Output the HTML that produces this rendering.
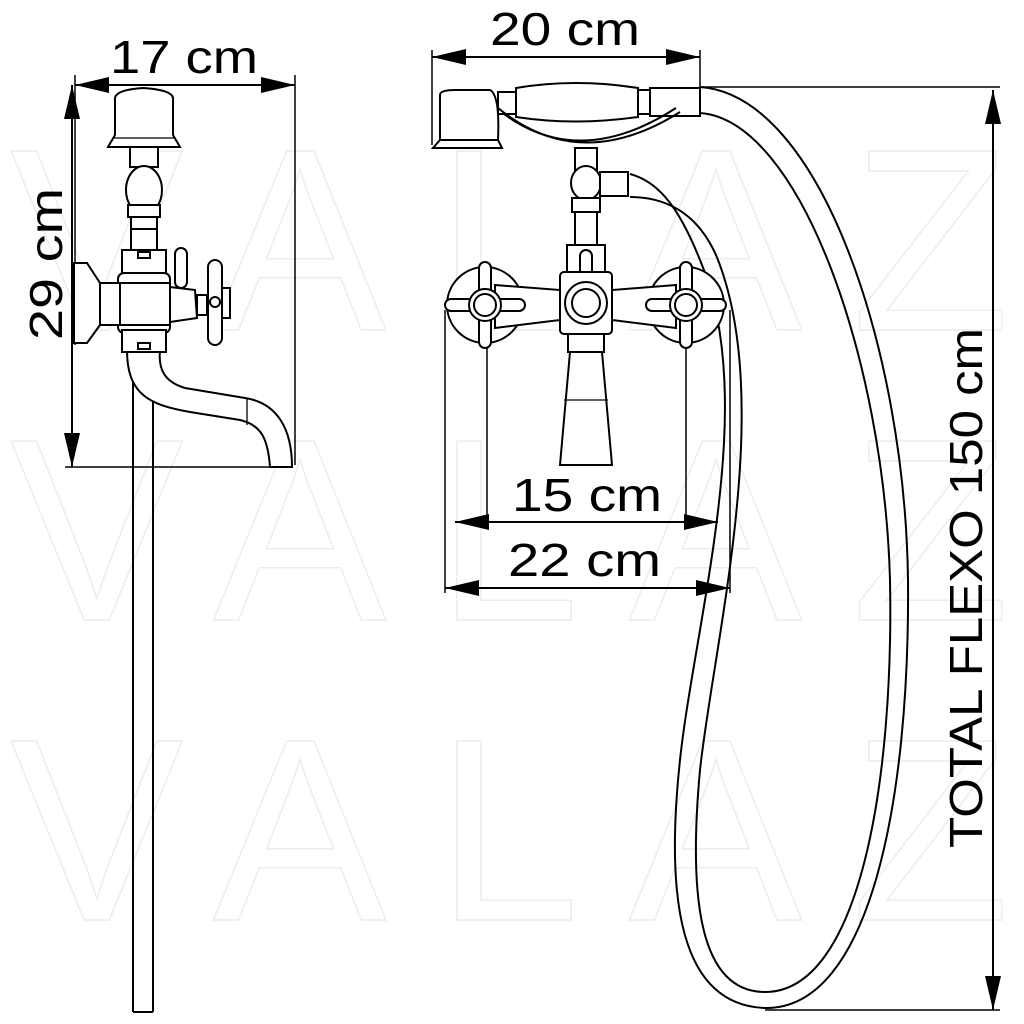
<!DOCTYPE html>
<html><head><meta charset="utf-8"><style>html,body{margin:0;padding:0;background:#fff}svg{display:block}</style></head>
<body>
<svg width="1024" height="1024" viewBox="0 0 1024 1024" xmlns="http://www.w3.org/2000/svg" font-family="Liberation Sans, sans-serif">
<defs>
<marker id="a" viewBox="0 0 10 10" refX="10" refY="5" markerWidth="34" markerHeight="16" markerUnits="userSpaceOnUse" orient="auto-start-reverse" preserveAspectRatio="none"><path d="M0,0 L10,5 L0,10 z" fill="#000"/></marker>
</defs>
<style>.l{fill:none;stroke:#000;stroke-width:2}.t{fill:none;stroke:#000;stroke-width:1.3}.w{fill:#fff;stroke:#000;stroke-width:2}.d{stroke:#000;stroke-width:1.5;fill:none}</style>
<!-- watermark -->
<g fill="none" stroke="#ececec" stroke-width="1.5" font-size="260" font-weight="300">
<text x="10" y="330" textLength="1000" lengthAdjust="spacing">VALAZ</text>
<text x="10" y="620" textLength="1000" lengthAdjust="spacing">VALAZ</text>
<text x="10" y="920" textLength="1000" lengthAdjust="spacing">VALAZ</text>
</g>
<g fill="#000" font-size="46">
<text x="110" y="73" textLength="148" lengthAdjust="spacingAndGlyphs">17 cm</text>
<text transform="translate(62,340) rotate(-90)" textLength="152" lengthAdjust="spacingAndGlyphs">29 cm</text>
<text x="490" y="45" textLength="150" lengthAdjust="spacingAndGlyphs">20 cm</text>
<text x="512" y="511" textLength="150" lengthAdjust="spacingAndGlyphs">15 cm</text>
<text x="508" y="576" textLength="153" lengthAdjust="spacingAndGlyphs">22 cm</text>
<text transform="translate(982,848) rotate(-90)" textLength="520" lengthAdjust="spacingAndGlyphs">TOTAL FLEXO 150 cm</text>
</g>
<g class="d">
<line x1="75" y1="85" x2="295" y2="85" marker-start="url(#a)" marker-end="url(#a)" style="stroke-width:2"/>
<line x1="75" y1="75" x2="75" y2="345"/><line x1="295" y1="75" x2="295" y2="465"/>
<line x1="72" y1="85" x2="72" y2="467" marker-start="url(#a)" marker-end="url(#a)" style="stroke-width:2"/>
<line x1="65" y1="467" x2="290" y2="467"/>
<line x1="432" y1="57" x2="700" y2="57" marker-start="url(#a)" marker-end="url(#a)" style="stroke-width:2"/>
<line x1="432" y1="50" x2="432" y2="145"/><line x1="700" y1="50" x2="700" y2="88"/>
<line x1="993" y1="90" x2="993" y2="1010" marker-start="url(#a)" marker-end="url(#a)" style="stroke-width:2"/>
<line x1="700" y1="87" x2="1000" y2="87"/><line x1="765" y1="1010" x2="1000" y2="1010"/>
<line x1="455" y1="522" x2="718" y2="522" marker-start="url(#a)" marker-end="url(#a)" style="stroke-width:2"/>
<line x1="487" y1="310" x2="487" y2="527"/><line x1="686" y1="310" x2="686" y2="527"/>
<line x1="445" y1="588" x2="730" y2="588" marker-start="url(#a)" marker-end="url(#a)" style="stroke-width:2"/>
<line x1="445" y1="310" x2="445" y2="593"/><line x1="730" y1="310" x2="730" y2="593"/>
</g>
<g>
<line class="l" x1="133" y1="345" x2="133" y2="1012"/><line class="l" x1="153" y1="345" x2="153" y2="1012"/>
<path class="l" d="M133,1012 L153,1012"/>
<path class="w" d="M127,350 C127,395 150,405 190,412 L240,420 C262,425 268,440 270,467 L292,467 C292,430 278,403 245,398 L185,388 C165,382 158,370 160,350 Z"/>
<line class="t" x1="247" y1="399" x2="247" y2="425"/>
<path class="w" d="M115,100 Q113,90 143,88 Q175,90 173,100 L173,135 L180,147 L108,147 L115,135 Z"/>
<line class="t" x1="113" y1="138" x2="175" y2="138"/>
<rect class="w" x="130" y="147" width="28" height="20"/>
<ellipse class="w" cx="144" cy="190" rx="18" ry="24"/>
<rect class="w" x="128" y="205" width="32" height="12"/>
<rect class="w" x="131" y="217" width="26" height="12"/>
<rect class="w" x="131" y="229" width="26" height="22"/>
<rect class="w" x="122" y="250" width="44" height="25"/>
<rect class="w" x="138" y="252" width="12" height="6"/>
<rect class="w" x="118" y="273" width="52" height="60" rx="6"/>
<rect class="w" x="122" y="330" width="44" height="22"/>
<rect class="w" x="138" y="343" width="12" height="6"/>
<path class="w" d="M74,263 L87,263 L100,283 L100,325 L87,343 L74,343 Z"/>
<rect class="w" x="100" y="283" width="20" height="42"/>
<rect class="w" x="120" y="283" width="50" height="42"/>
<path class="w" d="M170,287 L195,290 L197,318 L170,322 Z"/>
<rect class="w" x="175" y="248" width="12" height="40" rx="6"/>
<rect class="w" x="197" y="295" width="10" height="20"/>
<rect class="w" x="208" y="260" width="14" height="85" rx="7"/>
<rect class="w" x="222" y="288" width="8" height="30"/>
<circle class="w" cx="215" cy="302" r="5"/>
</g>
<path class="l" d="M700,87 C820,95 905,350 908,580 C910,800 870,1010 765,1008 C680,1005 665,900 680,760 C695,620 760,400 700,260 C680,210 660,182 630,174"/>
<path class="l" d="M700,113 C800,120 884,360 890,580 C894,780 860,992 765,992 C700,992 688,900 700,770 C714,640 776,400 716,255 C698,215 668,197 630,197"/>
<g>
<path class="w" d="M440,95 Q440,90 455,90 L490,90 Q500,95 498,140 L440,140 Z"/>
<path class="w" d="M440,140 L498,140 L502,148 L433,148 Z"/>
<rect class="w" x="498" y="92" width="18" height="22"/>
<path class="w" d="M516,88 Q575,78 638,88 L638,117 Q575,126 516,117 Z"/>
<rect class="w" x="638" y="90" width="12" height="24"/>
<rect class="w" x="650" y="88" width="50" height="28"/>
<path class="l" d="M498,108 Q580,175 680,112"/>
<path class="l" d="M504,114 Q580,170 676,108"/>
<rect class="w" x="575" y="148" width="22" height="22"/>
<ellipse class="w" cx="586" cy="183" rx="15" ry="17"/>
<rect class="w" x="600" y="172" width="28" height="24"/>
<rect class="w" x="572" y="198" width="28" height="14"/>
<rect class="w" x="575" y="212" width="22" height="35"/>
<rect class="w" x="567" y="245" width="38" height="30"/>
<rect class="w" x="580" y="250" width="12" height="30" rx="6"/>
<circle class="w" cx="485" cy="305" r="38"/>
<circle class="w" cx="686" cy="305" r="38"/>
<path class="w" d="M495,285 L560,290 L560,320 L495,328 Z"/>
<path class="w" d="M676,285 L612,290 L612,320 L676,328 Z"/>
<rect class="w" x="560" y="272" width="52" height="62" rx="4"/>
<circle class="w" cx="586" cy="303" r="21"/><circle class="w" cx="586" cy="303" r="14"/>
<rect class="w" x="568" y="334" width="36" height="18"/>
<path class="w" d="M570,352 L602,352 L612,465 L560,465 Z"/>
<line class="t" x1="564" y1="400" x2="608" y2="400"/>
<rect class="w" x="479" y="262" width="12" height="86" rx="6"/>
<rect class="w" x="445" y="299" width="80" height="12" rx="6"/>
<circle class="w" cx="485" cy="305" r="16"/><circle class="w" cx="485" cy="305" r="11"/>
<rect class="w" x="680" y="262" width="12" height="86" rx="6"/>
<rect class="w" x="646" y="299" width="80" height="12" rx="6"/>
<circle class="w" cx="686" cy="305" r="16"/><circle class="w" cx="686" cy="305" r="11"/>
</g>
</svg>
</body></html>
